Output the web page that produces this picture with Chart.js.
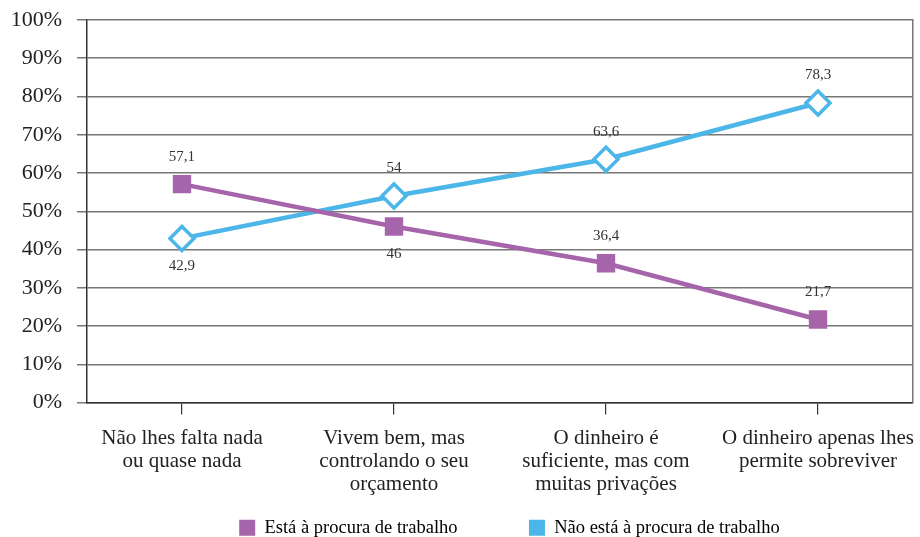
<!DOCTYPE html>
<html lang="pt">
<head>
<meta charset="UTF-8">
<title>Procura de trabalho</title>
<script src="https://cdn.jsdelivr.net/npm/chart.js"></script>
<style>
  body { margin: 0; background: #fff; }
</style>
</head>
<body>
<canvas id="chart" width="920" height="537"></canvas>
<script>
const categories = [
  ['Não lhes falta nada', 'ou quase nada'],
  ['Vivem bem, mas', 'controlando o seu', 'orçamento'],
  ['O dinheiro é', 'suficiente, mas com', 'muitas privações'],
  ['O dinheiro apenas lhes', 'permite sobreviver']
];
const procuraValues = [57.1, 46, 36.4, 21.7];
const naoProcuraValues = [42.9, 54, 63.6, 78.3];
const procuraLabelPos = ['above', 'below', 'above', 'above'];
const naoProcuraLabelPos = ['below', 'above', 'above', 'above'];

const serif = '"Liberation Serif", "DejaVu Serif", serif';
const purple = '#A664AA';
const blue = '#4CB6E8';

// rótulos de valor com vírgula decimal
const valueLabels = {
  id: 'valueLabels',
  afterDatasetsDraw(chart) {
    const ctx = chart.ctx;
    const positions = [procuraLabelPos, naoProcuraLabelPos];
    ctx.save();
    ctx.font = '15px ' + serif;
    ctx.fillStyle = '#333';
    ctx.textAlign = 'center';
    chart.data.datasets.forEach((ds, di) => {
      chart.getDatasetMeta(di).data.forEach((pt, i) => {
        const txt = String(ds.data[i].y).replace('.', ',');
        if (positions[di][i] === 'above') {
          ctx.textBaseline = 'bottom';
          ctx.fillText(txt, pt.x, pt.y - 20);
        } else {
          ctx.textBaseline = 'top';
          ctx.fillText(txt, pt.x, pt.y + 20);
        }
      });
    });
    ctx.restore();
  }
};

const toPoints = arr => arr.map((v, i) => ({ x: i, y: v }));

new Chart(document.getElementById('chart'), {
  type: 'line',
  data: {
    datasets: [
      {
        label: 'Está à procura de trabalho',
        data: toPoints(procuraValues),
        borderColor: purple,
        backgroundColor: purple,
        borderWidth: 4.5,
        pointStyle: 'rect',
        pointRadius: 13,
        pointBorderWidth: 0,
        pointBackgroundColor: purple
      },
      {
        label: 'Não está à procura de trabalho',
        data: toPoints(naoProcuraValues),
        borderColor: blue,
        backgroundColor: blue,
        borderWidth: 4.5,
        pointStyle: 'rectRot',
        pointRadius: 12,
        pointBorderWidth: 3.5,
        pointBackgroundColor: '#fff',
        pointBorderColor: blue
      }
    ]
  },
  options: {
    responsive: false,
    animation: false,
    layout: { autoPadding: false, padding: { top: 20, right: 7, left: 0, bottom: -10 } },
    plugins: {
      tooltip: { enabled: false },
      legend: {
        position: 'bottom',
        labels: {
          font: { family: serif, size: 18.5 },
          color: '#222',
          boxWidth: 16,
          boxHeight: 16,
          padding: 2,
          generateLabels(chart) {
            // primeiro item vazio só para deslocar a legenda para a direita
            const items = [{
              text: ' '.repeat(17),
              fillStyle: 'rgba(0,0,0,0)',
              strokeStyle: 'rgba(0,0,0,0)',
              lineWidth: 0,
              pointStyle: 'rect'
            }];
            chart.data.datasets.forEach((ds, i) => items.push({
              text: i === 0 ? ds.label + ' '.repeat(15) : ds.label,
              fillStyle: ds.borderColor,
              strokeStyle: ds.borderColor,
              lineWidth: 0,
              pointStyle: 'rect',
              datasetIndex: i
            }));
            return items;
          }
        }
      }
    },
    scales: {
      x: {
        type: 'linear',
        min: -0.448,
        max: 3.448,
        afterFit(axis) {
          axis.height = 114;
          axis.paddingLeft = 0;
          axis.paddingRight = 0;
        },
        afterBuildTicks(axis) {
          axis.ticks = categories.map((c, i) => ({ value: i }));
        },
        grid: { drawOnChartArea: false, tickLength: 12, color: '#333', lineWidth: 1.2 },
        border: { color: '#333', width: 1.5 },
        ticks: {
          font: { family: serif, size: 21, lineHeight: 1.1 },
          color: '#222',
          maxRotation: 0,
          autoSkip: false,
          padding: 12,
          callback: v => categories[v] || ''
        }
      },
      y: {
        min: 0,
        max: 100,
        afterFit(axis) {
          axis.width = 87;
          axis.paddingTop = 0;
          axis.paddingBottom = 0;
        },
        grid: { color: '#777', lineWidth: 1.5, tickLength: 10 },
        border: { color: '#333', width: 1.5 },
        ticks: {
          stepSize: 10,
          font: { family: serif, size: 22 },
          color: '#222',
          padding: 15,
          callback: v => v + '%'
        }
      },
      yRight: {
        position: 'right',
        min: 0,
        max: 100,
        afterFit(axis) { axis.width = 0; },
        grid: { drawOnChartArea: false, drawTicks: false },
        border: { color: '#777', width: 1.5 },
        ticks: { display: false }
      }
    }
  },
  plugins: [valueLabels]
});
</script>
</body>
</html>
